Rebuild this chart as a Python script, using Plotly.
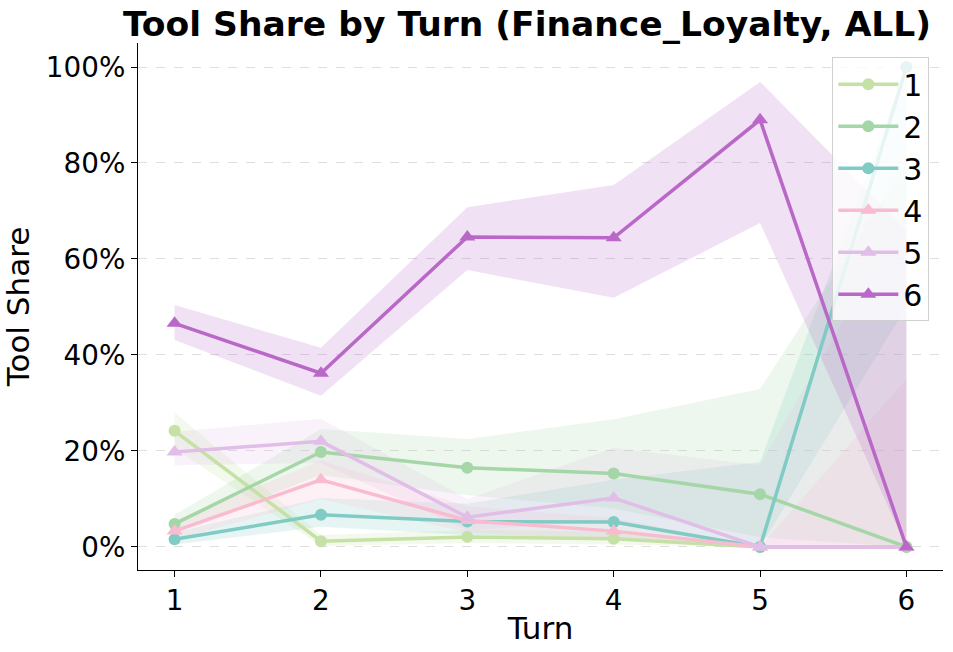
import plotly.graph_objects as go

turns = [1, 2, 3, 4, 5, 6]
series_names = ["1", "2", "3", "4", "5", "6"]
colors = ["#c5e1a5", "#a5d6a7", "#80cbc4", "#f8bbd0", "#e1bee7", "#ba68c8"]
symbols = ["circle", "circle", "circle", "triangle-up", "triangle-up", "triangle-up"]
marker_sizes = [12, 12, 12, 14, 14, 14]

# values in percent
s1 = [24.2, 1.2, 2.1, 1.7, 0.0, 0.0]
s2 = [4.8, 19.8, 16.5, 15.3, 11.0, 0.0]
s3 = [1.6, 6.7, 5.3, 5.2, 0.0, 100.0]
s4 = [3.3, 14.0, 5.5, 3.3, 0.0, 0.0]
s5 = [19.8, 22.0, 6.2, 10.2, 0.0, 0.0]
s6 = [46.6, 36.2, 64.6, 64.4, 89.0, 0.0]

lo1 = [20.5, 0.2, 0.8, 0.5, 0.0, 0.0]
hi1 = [28.0, 2.5, 3.5, 3.2, 0.0, 0.0]
lo2 = [3.0, 15.0, 10.8, 8.0, 2.0, 0.0]
hi2 = [6.7, 24.6, 22.5, 26.6, 32.9, 80.0]
lo3 = [0.5, 4.2, 2.5, 2.0, 0.0, 50.0]
hi3 = [3.0, 10.2, 9.0, 14.0, 17.7, 100.0]
lo4 = [1.5, 10.0, 3.0, 1.5, 0.0, 0.0]
hi4 = [5.5, 18.0, 8.5, 6.0, 0.0, 35.0]
lo5 = [17.0, 17.5, 3.5, 5.5, 0.0, 0.0]
hi5 = [24.0, 26.7, 10.0, 20.6, 17.0, 70.0]
lo6 = [43.1, 31.5, 57.7, 51.9, 67.5, 0.0]
hi6 = [50.4, 41.5, 70.8, 75.4, 96.9, 66.0]

values = [s1, s2, s3, s4, s5, s6]
lows = [lo1, lo2, lo3, lo4, lo5, lo6]
highs = [hi1, hi2, hi3, hi4, hi5, hi6]

y_ticks = [0, 20, 40, 60, 80, 100]
y_tick_labels = ["0%", "20%", "40%", "60%", "80%", "100%"]


def rgba(hex_color, a):
    h = hex_color.lstrip("#")
    r, g, b = int(h[0:2], 16), int(h[2:4], 16), int(h[4:6], 16)
    return f"rgba({r},{g},{b},{a})"


fig = go.Figure()

for name, col, lo, hi in zip(series_names, colors, lows, highs):
    fig.add_trace(go.Scatter(
        x=turns + turns[::-1],
        y=hi + lo[::-1],
        fill="toself",
        fillcolor=rgba(col, 0.2),
        line=dict(width=0),
        mode="lines",
        hoverinfo="skip",
        showlegend=False,
    ))

for name, col, sym, ms, vals in zip(series_names, colors, symbols, marker_sizes, values):
    fig.add_trace(go.Scatter(
        x=turns,
        y=vals,
        mode="lines+markers",
        name=name,
        line=dict(color=col, width=3.5),
        marker=dict(color=col, size=ms, symbol=sym),
    ))

font_family = "DejaVu Sans"
fig.update_layout(
    width=953,
    height=652,
    paper_bgcolor="white",
    plot_bgcolor="white",
    margin=dict(l=138, r=10, t=43, b=82),
    font=dict(family=font_family, size=27.8, color="black"),
    title=dict(
        text="<b>Tool Share by Turn (Finance_Loyalty, ALL)</b>",
        x=0.553, xanchor="center", yref="container", y=1 - 24 / 652, yanchor="middle",
        font=dict(size=34.5, family=font_family, color="black"),
    ),
    legend=dict(
        x=0.983, xanchor="right", y=0.973, yanchor="top",
        bgcolor="rgba(255,255,255,0.8)",
        bordercolor="#d0d0d0", borderwidth=1,
        font=dict(size=30, family=font_family),
        itemwidth=60,
    ),
    xaxis=dict(
        range=[0.75, 6.25],
        tickmode="array", tickvals=turns, ticktext=[str(t) for t in turns],
        showgrid=False, zeroline=False, automargin=False,
        showline=True, linecolor="black", linewidth=1.2,
        ticks="outside", ticklen=6, tickcolor="black",
        tickfont=dict(size=27.8),
        title=dict(text="Turn", font=dict(size=31), standoff=0),
    ),
    yaxis=dict(
        range=[-4.8, 105],
        tickmode="array", tickvals=y_ticks, ticktext=y_tick_labels,
        showgrid=True, gridcolor="rgba(200,200,200,0.6)", griddash="dash", gridwidth=1,
        zeroline=False, automargin=False,
        showline=True, linecolor="black", linewidth=1.2,
        ticks="outside", ticklen=6, tickcolor="black",
        tickfont=dict(size=27.8),
        title=dict(text="Tool Share", font=dict(size=31), standoff=18),
    ),
)

fig.write_html("out.html", config={"displayModeBar": False})

# remove the default body margin so the figure sits at the window's top-left corner
with open("out.html", "r", encoding="utf-8") as f:
    html = f.read()
html = html.replace("<head>", "<head><style>html,body{margin:0;padding:0;overflow:hidden;}</style>", 1)
with open("out.html", "w", encoding="utf-8") as f:
    f.write(html)
